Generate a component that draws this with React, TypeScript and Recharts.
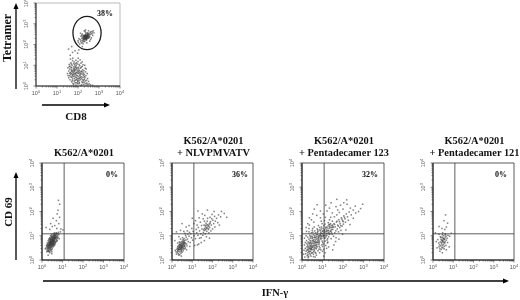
// App.tsx - tetramer staining and four IFN-gamma / CD69 flow plots
import { ScatterChart, Scatter, XAxis, YAxis, ReferenceLine, ReferenceArea } from 'recharts';

type Pt = [number, number];

// all values are in decades (log10 of the channel value)
const DECADES = [0, 1, 2, 3, 4];
const LOG_TICKS = [
  0, 0.3, 0.48, 0.6, 0.7, 0.78, 0.85, 0.9, 0.95,
  1, 1.3, 1.48, 1.6, 1.7, 1.78, 1.85, 1.9, 1.95,
  2, 2.3, 2.48, 2.6, 2.7, 2.78, 2.85, 2.9, 2.95,
  3, 3.3, 3.48, 3.6, 3.7, 3.78, 3.85, 3.9, 3.95, 4,
];

const tetramerHigh: Pt[] = [
  [2.38,2.36],[2.42,2.4],[2.31,2.3],[2.35,2.42],[2.45,2.48],[2.28,2.22],[2.5,2.44],[2.4,2.28],[2.33,2.38],[2.47,2.36],
  [2.26,2.34],[2.37,2.5],[2.52,2.52],[2.2,2.2],[2.43,2.32],[2.3,2.44],[2.36,2.26],[2.55,2.46],[2.24,2.28],[2.41,2.44],
  [2.34,2.34],[2.48,2.42],[2.29,2.38],[2.39,2.2],[2.44,2.54],[2.18,2.3],[2.32,2.14],[2.58,2.58],[2.46,2.3],[2.27,2.16],
  [2.4,2.38],[2.35,2.3],[2.51,2.38],[2.22,2.36],[2.6,2.5],[2.36,2.46],[2.42,2.24],[2.3,2.26],[2.25,2.42],[2.49,2.5],
  [2.13,2.16],[2.38,2.56],[2.56,2.38],[2.44,2.42],[2.33,2.24],[2.28,2.32],[2.4,2.34],[2.37,2.4],[2.46,2.46],[2.31,2.36],
  [2.16,2.08],[2.66,2.52],[2.34,2.62],[2.5,2.3],[2.22,2.12],[2.39,2.44],[2.43,2.36],[2.35,2.36],[2.29,2.44],[2.41,2.3],
  [2.62,2.62],[2.1,2.24],[2.47,2.56],[2.26,2.24],[2.53,2.34],[2.32,2.32],[2.37,2.28],[2.45,2.38],[2.3,2.4],[2.4,2.42],
  [2.02,2.1],[2.72,2.66],[2.08,2.02],[2.76,2.56],[2.14,2.4],[2.64,2.32],[2.04,2.28],[2.7,2.44],[2.2,2.5],[2.6,2.24],
  [2.12,2.54],[2.3,2.66],[2.5,2.66],[2.42,2.08],[2.24,2.04],[2.56,2.16],[2.68,2.6],[2.0,2.18],[2.18,2.44],[2.36,2.7],
  [1.74,1.62],[1.55,1.78],[1.86,1.7],[1.98,1.58],[1.63,1.48],[2.04,1.74],[1.7,1.9],[2.2,1.9],
];

const tetramerLow: Pt[] = [
  [1.95,0.67],[1.78,0.82],[2.1,0.55],[1.62,0.95],[2.22,0.78],[1.88,0.42],[2.02,0.9],[1.7,0.6],[2.3,0.32],[1.84,1.02],
  [2.14,1.1],[1.56,0.72],[1.98,0.26],[2.38,0.5],[1.74,0.34],[2.06,0.74],[1.92,0.98],[1.66,1.12],[2.26,0.62],[1.8,0.55],
  [2.18,0.2],[1.52,0.88],[2.0,1.18],[2.42,0.14],[1.9,0.78],[1.72,1.0],[2.08,0.38],[1.6,0.5],[2.34,0.86],[1.86,0.16],
  [2.24,1.02],[1.96,0.5],[1.68,0.78],[2.12,0.86],[1.82,1.16],[2.46,0.36],[1.76,0.12],[2.04,0.6],[1.58,1.04],[2.28,0.08],
  [1.94,0.84],[2.16,0.44],[1.64,0.64],[2.36,0.68],[1.88,1.08],[2.0,0.1],[1.7,0.9],[2.2,0.94],[1.78,0.46],[2.5,0.22],
  [1.84,0.7],[2.1,1.26],[1.5,0.6],[1.92,0.3],[2.32,1.0],[1.74,1.22],[2.06,0.18],[1.62,0.3],[2.24,0.42],[1.98,0.76],
  [2.4,0.04],[1.8,0.92],[2.14,0.68],[1.66,0.44],[1.9,1.24],[2.3,0.56],[2.02,0.46],[1.72,0.74],[2.18,0.06],[1.86,0.58],
  [2.08,0.98],[1.56,0.4],[2.26,0.26],[1.96,1.06],[2.44,0.6],[1.82,0.24],[2.12,0.3],[1.68,1.06],[2.36,0.12],[1.94,0.4],
  [2.04,0.82],[1.76,0.66],[2.22,0.16],[1.88,0.88],[2.54,0.1],[1.6,0.82],[2.16,0.72],[1.99,0.62],[1.73,0.5],[2.28,0.74],
  [1.83,0.36],[2.09,0.5],[2.35,0.24],[1.9,0.04],[2.2,1.16],[1.65,0.56],[2.01,1.34],[1.79,0.08],[2.47,0.08],[1.93,0.52],
  [2.13,0.02],[1.7,0.2],[2.33,0.4],[1.87,0.94],[2.05,0.28],[2.25,0.52],[1.97,0.14],[2.41,0.28],[1.81,0.62],[2.6,0.05],
  [1.64,1.3],[2.15,0.9],[1.75,1.34],[2.39,0.82],[2.7,0.03],[1.91,0.64],[2.07,0.66],[1.85,0.76],[2.19,0.58],[2.03,0.36],
  [1.77,0.72],[1.89,0.6],[1.95,0.88],[2.01,0.7],[1.83,0.84],[1.71,0.42],[2.11,0.42],[1.85,0.48],[1.97,0.34],[2.05,1.04],
  [1.69,0.7],[1.61,0.62],[1.79,1.08],[2.17,0.36],[1.93,1.12],[1.87,0.28],[2.23,0.3],[1.75,0.56],[2.13,0.6],[1.81,0.78],
  [2.29,0.18],[1.99,0.22],[1.67,0.88],[2.07,0.12],[1.53,0.5],[2.21,0.68],[1.91,0.16],[1.59,0.94],[2.31,0.46],[1.73,0.26],
];

const panelNone: Pt[] = [
  [0.49,0.75],[0.42,0.68],[0.55,0.82],[0.36,0.6],[0.6,0.9],[0.46,0.72],[0.52,0.7],[0.4,0.76],[0.58,0.78],[0.33,0.52],
  [0.64,0.94],[0.44,0.62],[0.5,0.84],[0.38,0.7],[0.56,0.72],[0.3,0.46],[0.68,1.0],[0.47,0.8],[0.53,0.64],[0.41,0.56],
  [0.62,0.84],[0.35,0.66],[0.48,0.58],[0.57,0.9],[0.43,0.84],[0.28,0.56],[0.72,0.96],[0.51,0.76],[0.39,0.48],[0.66,0.88],
  [0.45,0.78],[0.54,0.86],[0.32,0.4],[0.6,0.98],[0.37,0.74],[0.5,0.66],[0.42,0.5],[0.7,1.06],[0.26,0.5],[0.55,0.96],
  [0.47,0.64],[0.61,0.76],[0.34,0.58],[0.4,0.64],[0.58,0.68],[0.44,0.7],[0.64,1.04],[0.52,0.88],[0.3,0.62],[0.49,0.54],
  [0.75,1.02],[0.36,0.44],[0.56,0.8],[0.43,0.76],[0.67,0.92],[0.24,0.42],[0.46,0.88],[0.6,0.82],[0.38,0.54],[0.53,0.78],
  [0.41,0.82],[0.72,1.1],[0.33,0.68],[0.5,0.92],[0.59,0.86],[0.45,0.58],[0.28,0.36],[0.63,0.98],[0.55,0.66],[0.37,0.62],
  [0.48,0.7],[0.78,1.08],[0.42,0.44],[0.52,0.98],[0.35,0.5],[0.66,1.08],[0.44,0.78],[0.57,0.74],[0.31,0.54],[0.61,0.92],
  [0.46,0.66],[0.39,0.6],[0.69,1.12],[0.54,0.74],[0.4,0.7],[0.5,0.8],[0.34,0.34],[0.58,1.02],[0.47,0.94],[0.62,0.9],
  [0.43,0.66],[0.51,0.6],[0.36,0.72],[0.56,0.92],[0.29,0.48],[0.74,0.94],[0.45,0.52],[0.6,1.06],[0.41,0.62],[0.53,0.82],
  [0.8,1.14],[0.38,0.3],[0.49,0.86],[0.65,1.0],[0.32,0.6],[0.55,0.7],[0.44,0.86],[0.23,0.34],[0.59,0.94],[0.42,0.74],
  [0.22,0.6],[0.26,0.7],[0.3,0.8],[0.34,0.86],[0.38,0.92],[0.42,1.0],[0.46,1.04],[0.52,1.08],[0.56,1.02],[0.6,1.12],
  [0.7,0.84],[0.74,0.8],[0.66,0.72],[0.62,0.66],[0.58,0.58],[0.54,0.54],[0.5,0.46],[0.46,0.42],[0.42,0.38],[0.36,0.36],
  [0.78,0.94],[0.76,0.88],[0.72,0.78],[0.68,0.76],[0.64,0.7],[0.28,0.66],[0.32,0.74],[0.36,0.8],[0.4,0.88],[0.44,0.94],
  [0.3,0.38],[0.2,0.5],[0.24,0.56],[0.82,1.04],[0.48,0.98],[0.54,0.6],[0.48,0.34],[0.68,0.9],[0.63,0.78],[0.57,0.64],
  [0.48,0.26],[0.25,0.62],[0.84,0.88],[0.62,0.62],[0.16,0.46],[0.36,0.86],[0.9,1.16],[0.3,0.2],
  [0.72,1.3],[0.5,1.38],[0.82,1.5],[0.62,1.42],[0.38,1.26],[0.92,1.28],[0.7,1.62],[0.86,1.76],[0.78,2.05],[0.86,2.3],
  [0.8,2.46],[0.74,1.9],[0.42,1.5],[0.2,1.34],[0.54,1.72],[1.02,1.24],
];

const panelNlv: Pt[] = [
  [0.48,0.55],[0.42,0.48],[0.56,0.66],[0.36,0.42],[0.62,0.72],[0.44,0.6],[0.52,0.5],[0.38,0.56],[0.6,0.58],[0.3,0.36],
  [0.68,0.82],[0.46,0.4],[0.5,0.7],[0.34,0.52],[0.58,0.76],[0.26,0.3],[0.72,0.66],[0.4,0.66],[0.54,0.44],[0.32,0.26],
  [0.64,0.62],[0.47,0.76],[0.37,0.34],[0.76,0.86],[0.43,0.54],[0.24,0.44],[0.55,0.84],[0.28,0.56],[0.66,0.5],[0.5,0.32],
  [0.41,0.72],[0.6,0.88],[0.35,0.62],[0.8,0.76],[0.45,0.46],[0.2,0.34],[0.57,0.54],[0.33,0.2],[0.7,0.94],[0.49,0.62],
  [0.39,0.44],[0.63,0.46],[0.53,0.78],[0.27,0.5],[0.84,0.98],[0.44,0.28],[0.59,0.68],[0.36,0.74],[0.74,0.58],[0.51,0.58],
  [0.22,0.24],[0.9,0.72],[0.42,0.86],[0.67,1.02],[0.55,0.38],[0.31,0.46],[0.78,1.06],[0.47,0.5],[0.61,0.8],[0.38,0.22],
  [0.96,0.92],[0.52,0.92],[0.16,0.4],[0.72,0.42],[0.86,1.14],[0.28,0.7],[1.02,0.82],[0.64,1.1],[0.46,0.16],[0.92,1.08],
  [0.46,0.58],[0.4,0.52],[0.52,0.62],[0.34,0.44],[0.58,0.62],[0.44,0.44],[0.5,0.54],[0.42,0.62],[0.56,0.48],[0.36,0.5],
  [0.62,0.56],[0.3,0.44],[0.48,0.68],[0.54,0.72],[0.38,0.64],[0.66,0.7],[0.28,0.38],[0.45,0.36],[0.6,0.7],[0.33,0.58],
  [1.1,1.0],[0.34,0.96],[1.04,1.18],[0.76,1.2],[1.16,0.88],[0.58,1.18],[0.88,0.56],[1.22,1.12],[0.42,1.22],[0.98,1.3],
  [1.28,1.02],[0.7,1.36],[1.12,0.6],[0.22,1.16],[1.36,0.9],[0.84,1.42],[0.14,0.8],[1.44,0.72],[0.5,1.5],[1.26,0.62],
  [1.7,1.3],[1.62,1.22],[1.78,1.4],[1.55,1.14],[1.84,1.48],[1.66,1.36],[1.72,1.18],[1.48,1.28],[1.9,1.58],[1.58,1.44],
  [1.8,1.26],[1.42,1.08],[1.96,1.7],[1.68,1.52],[1.74,1.6],[1.36,1.2],[2.02,1.64],[1.52,1.02],[1.86,1.34],[1.6,1.6],
  [1.94,1.44],[1.3,1.34],[2.1,1.8],[1.76,1.72],[1.46,1.42],[2.06,1.5],[1.64,1.08],[1.88,1.76],[1.24,1.44],[2.2,1.72],
  [1.82,1.12],[1.54,1.7],[2.14,1.6],[1.4,1.56],[2.3,1.86],[1.98,1.88],[1.7,0.96],[2.4,1.78],[1.2,1.26],[1.34,1.74],
  [2.0,1.28],[1.62,1.84],[1.92,1.2],[2.26,1.54],[1.5,1.9],[2.12,1.36],[1.44,0.92],[2.58,1.92],[1.16,1.62],[1.75,2.06],
  [2.34,1.44],[1.08,1.5],[1.85,0.9],[1.28,2.02],[2.7,1.76],[1.6,0.8],[2.08,2.0],[1.32,0.66],[1.0,1.72],[2.44,2.0],
  [1.72,1.34],[1.66,1.26],[1.76,1.46],[1.6,1.3],[1.82,1.4],[1.7,1.44],[1.56,1.24],[1.88,1.52],[1.64,1.42],[1.78,1.3],
];

const panelPenta123: Pt[] = [
  [0.39,0.5],[0.46,0.62],[0.32,0.42],[0.54,0.7],[0.6,0.58],[0.28,0.3],[0.66,0.82],[0.42,0.36],[0.72,0.74],[0.5,0.88],
  [0.36,0.66],[0.8,0.92],[0.24,0.54],[0.58,0.44],[0.86,1.0],[0.44,0.78],[0.68,0.62],[0.2,0.36],[0.92,0.86],[0.52,0.52],
  [0.3,0.74],[0.76,1.06],[0.62,0.94],[0.4,0.22],[0.96,1.1],[0.48,0.98],[0.16,0.48],[0.84,0.7],[0.34,0.86],[0.7,0.46],
  [1.02,0.98],[0.56,1.04],[0.26,0.18],[0.9,1.2],[0.64,0.32],[0.12,0.62],[1.08,1.14],[0.74,0.54],[0.38,1.02],[0.98,0.78],
  [0.5,0.3],[0.78,1.18],[0.22,0.8],[1.14,1.02],[0.6,0.76],[0.42,0.58],[1.2,1.24],[0.88,0.5],[0.32,0.14],[0.66,1.12],
  [1.04,0.66],[0.46,1.12],[0.18,0.26],[1.26,1.1],[0.82,0.84],[0.56,0.24],[0.94,1.28],[0.36,0.48],[1.12,0.9],[0.72,0.96],
  [0.28,0.94],[1.32,1.3],[0.62,1.2],[0.44,0.16],[1.0,0.56],[0.54,0.6],[0.1,0.4],[1.18,1.36],[0.78,0.38],[0.34,1.16],
  [1.38,1.18],[0.86,1.34],[0.58,0.84],[0.24,0.68],[1.22,0.82],[0.68,0.28],[1.44,1.42],[0.4,0.72],[0.96,0.62],[0.5,1.22],
  [0.14,0.12],[1.3,0.96],[0.74,1.28],[0.6,0.4],[1.5,1.26],[0.3,0.56],[1.06,1.42],[0.82,0.64],[0.46,0.44],[1.56,1.5],
  [0.92,0.42],[0.2,1.0],[1.36,1.08],[0.7,1.04],[1.12,1.48],[0.38,0.28],[1.62,1.36],[0.52,1.3],[1.24,0.7],[0.8,1.42],
  [0.26,0.44],[1.68,1.56],[0.64,0.7],[1.42,0.88],[0.98,1.5],[0.42,0.9],[1.74,1.44],[0.86,0.3],[0.16,0.72],[1.16,0.6],
  [1.48,1.6],[0.56,0.14],[1.28,1.54],[0.76,0.72],[1.8,1.66],[0.34,1.3],[1.06,0.44],[1.6,1.12],[0.9,1.02],[0.48,0.7],
  [1.86,1.5],[1.34,1.66],[0.66,0.5],[1.54,0.98],[0.22,1.18],[1.92,1.74],[1.02,1.2],[0.6,1.36],[1.72,1.28],[1.2,0.48],
  [0.44,0.48],[1.98,1.62],[1.4,1.76],[0.84,0.56],[1.66,0.92],[0.3,0.1],[2.04,1.82],[1.1,1.62],[1.5,1.36],[0.7,0.2],
  [1.78,1.16],[0.94,1.6],[2.1,1.7],[1.26,0.74],[1.58,1.78],[0.52,0.8],[2.16,1.9],[1.84,1.34],[0.36,1.44],[1.44,1.14],
  [1.0,0.36],[2.22,1.78],[1.7,1.86],[0.78,0.88],[1.96,1.4],[1.14,1.76],[0.12,0.9],[2.3,1.98],[1.36,1.46],[0.58,1.56],
  [2.02,1.48],[1.64,0.76],[0.9,1.74],[2.4,1.86],[1.82,1.96],[0.28,1.5],[2.12,1.56],[1.3,0.54],[1.48,1.94],[0.64,0.12],
  [0.35,0.36],[0.41,0.44],[0.47,0.5],[0.53,0.56],[0.59,0.66],[0.65,0.74],[0.71,0.86],[0.77,0.8],[0.83,0.96],[0.89,1.06],
  [0.95,1.0],[1.01,1.08],[1.07,1.02],[1.13,1.16],[1.19,1.1],[1.25,1.2],[1.31,1.14],[1.37,1.34],[1.43,1.26],[1.49,1.44],
  [0.31,0.5],[0.37,0.58],[0.43,0.68],[0.49,0.42],[0.55,0.78],[0.61,0.5],[0.67,0.92],[0.73,0.64],[0.79,1.0],[0.85,0.78],
  [0.91,1.12],[0.97,0.9],[1.03,1.3],[1.09,0.92],[1.15,1.32],[1.21,1.02],[1.27,1.4],[1.33,1.06],[1.39,1.5],[1.45,1.34],
  [0.27,0.62],[0.33,0.34],[0.39,0.8],[0.45,0.56],[0.51,0.94],[0.57,0.34],[0.63,1.0],[0.69,0.72],[0.75,1.14],[0.81,0.74],
  [0.87,1.24],[0.93,0.96],[0.99,1.18],[1.05,1.0],[1.11,1.24],[1.17,0.96],[1.23,1.32],[1.29,1.22],[1.35,1.38],[1.41,1.2],
  [0.25,0.4],[0.29,0.22],[0.35,0.7],[0.41,0.96],[0.47,0.28],[0.53,1.14],[0.59,0.92],[0.65,0.6],[0.71,0.56],[0.77,1.24],
  [0.83,0.44],[0.89,0.9],[0.95,1.36],[1.01,0.72],[1.07,1.22],[1.13,0.78],[1.19,1.18],[1.25,0.88],[1.31,1.46],[1.47,1.06],
  [1.53,1.36],[1.59,1.46],[1.65,1.2],[1.71,1.6],[1.77,1.4],[1.83,1.58],[1.89,1.42],[1.95,1.68],[2.01,1.58],[2.07,1.76],
  [2.5,2.06],[1.9,1.22],[1.04,1.9],[2.26,1.64],[1.74,2.06],[0.08,0.24],[2.62,1.94],[1.56,0.62],[1.22,2.02],[2.36,2.14],
  [0.46,1.66],[2.0,2.1],[1.12,0.3],[2.76,2.0],[1.66,2.2],[2.14,1.24],[0.72,1.84],[2.5,1.72],[1.88,2.26],[0.2,1.34],
  [1.34,2.14],[2.86,2.12],[2.2,2.3],[0.9,2.02],[1.5,0.42],[2.04,2.36],[0.52,1.9],[2.6,2.22],[1.16,2.26],[1.8,0.86],
  [0.74,2.28],[2.34,1.46],[1.42,2.36],[2.18,2.48],[0.36,1.74],[1.98,1.06],[0.6,2.1],[2.96,2.3],[1.06,0.16],[1.7,2.5],
];

const panelPenta121: Pt[] = [
  [0.48,0.75],[0.42,0.66],[0.55,0.84],[0.38,0.58],[0.6,0.92],[0.46,0.82],[0.52,0.64],[0.36,0.74],[0.58,0.7],[0.44,0.52],
  [0.64,0.98],[0.5,0.9],[0.32,0.62],[0.56,0.56],[0.4,0.84],[0.47,0.6],[0.66,0.82],[0.34,0.46],[0.53,1.0],[0.43,0.72],
  [0.6,0.76],[0.28,0.7],[0.49,0.5],[0.62,1.04],[0.39,0.92],[0.54,0.72],[0.45,0.94],[0.7,0.9],[0.3,0.54],[0.57,0.86],
  [0.41,0.44],[0.5,0.78],[0.24,0.84],[0.64,0.6],[0.46,1.04],[0.74,1.02],[0.36,0.96],[0.55,0.46],[0.44,0.8],[0.52,0.88],
  [0.2,0.5],[0.82,0.98],[0.6,1.08],[0.34,0.36],[0.72,0.72],[0.16,0.76],[0.48,1.12],[0.9,1.1],[0.3,1.06],[0.66,0.42],
  [0.58,1.26],[0.72,1.52],[0.44,1.3],[0.62,1.86],[0.54,1.62],[0.3,1.38],[0.66,1.36],[0.12,1.12],[0.8,0.54],[0.46,0.3],
];

const facs = [
  { title: ['K562/A*0201'], pct: '0%', pctX: 112, cells: panelNone, left: 42, width: 82 },
  { title: ['K562/A*0201', '+ NLVPMVATV'], pct: '36%', pctX: 240, cells: panelNlv, left: 172, width: 81 },
  { title: ['K562/A*0201', '+ Pentadecamer 123'], pct: '32%', pctX: 370, cells: panelPenta123, left: 302, width: 82 },
  { title: ['K562/A*0201', '+ Pentadecamer 121'], pct: '0%', pctX: 501, cells: panelPenta121, left: 433, width: 81 },
];

const serif = '"Liberation Serif", serif';
const AXIS_W = 22;
const AXIS_H = 18;
const QUAD_LINE = 1.08;

function LogTick({ x, y, payload, vertical }: any) {
  const major = DECADES.includes(payload.value);
  const len = major ? 2.5 : 1.5;
  const label = major && (
    <text
      x={vertical ? x - 8 : x}
      y={vertical ? y : y + 9}
      textAnchor="middle"
      fontSize={5.5}
      fontFamily='"Liberation Sans", sans-serif'
      fill="#555"
      transform={vertical ? `rotate(-90 ${x - 8} ${y})` : undefined}
    >
      10<tspan dy={-2} fontSize={4}>{payload.value}</tspan>
    </text>
  );
  return (
    <g>
      {vertical
        ? <line x1={x - len} x2={x} y1={y} y2={y} stroke="#333" strokeWidth={0.6} />
        : <line x1={x} x2={x} y1={y} y2={y + len} stroke="#333" strokeWidth={0.6} />}
      {label}
    </g>
  );
}

const Dot = (props: any) => <rect x={props.cx - 0.75} y={props.cy - 0.75} width={1.5} height={1.5} fill="#3a3a3a" fillOpacity={0.65} />;

function Gate(props: any) {
  const { x, y, width, height } = props;
  return <ellipse cx={x + width / 2} cy={y + height / 2} rx={width / 2} ry={height / 2} fill="none" stroke="#1a1a1a" strokeWidth={1.3} />;
}

function FlowPlot({ left, top, width, height, cells, children, frame = '#333' }: any) {
  return (
    <div style={{ position: 'absolute', left: left - AXIS_W, top: top - 6 }}>
      <ScatterChart
        width={width + AXIS_W + 8}
        height={height + AXIS_H + 6}
        margin={{ top: 6, right: 8, left: 0, bottom: 0 }}
      >
        <XAxis
          type="number" dataKey="x" domain={[0, 4]} ticks={LOG_TICKS} interval={0} height={AXIS_H}
          axisLine={{ stroke: '#222' }} tickLine={false} tickSize={0} tickMargin={0} tick={<LogTick />}
        />
        <YAxis
          type="number" dataKey="y" domain={[0, 4]} ticks={LOG_TICKS} interval={0} width={AXIS_W}
          axisLine={{ stroke: '#222' }} tickLine={false} tickSize={0} tickMargin={0} tick={<LogTick vertical />}
        />
        <ReferenceArea x1={0} x2={4} y1={0} y2={4} fill="none" stroke={frame} strokeWidth={0.8} />
        {children}
        <Scatter data={cells.map(([x, y]: Pt) => ({ x, y }))} shape={Dot} isAnimationActive={false} />
      </ScatterChart>
    </div>
  );
}

function Label({ x, y, size = 10.4, children, rotate }: any) {
  return (
    <div
      style={{
        position: 'absolute', left: x, top: y, whiteSpace: 'nowrap', fontFamily: serif, fontWeight: 700, fontSize: size,
        lineHeight: 1, color: '#111', transform: `translate(-50%, -50%)${rotate ? ` rotate(${rotate}deg)` : ''}`,
      }}
    >
      {children}
    </div>
  );
}

export default function App() {
  return (
    <div style={{ position: 'absolute', left: 0, top: 0, width: 520, height: 300, background: '#fff', overflow: 'hidden', filter: 'blur(0.35px)' }}>
      <FlowPlot left={36} top={3} width={84} height={83} cells={[...tetramerHigh, ...tetramerLow]} frame="#aaa">
        <ReferenceArea x1={1.76} x2={3.1} y1={1.75} y2={3.36} shape={<Gate />} />
      </FlowPlot>
      <Label x={105} y={14} size={8}>38%</Label>
      <Label x={7} y={38} size={12} rotate={-90}>Tetramer</Label>
      <Label x={76} y={116} size={11}>CD8</Label>

      {facs.map((p) => (
        <div key={p.left}>
          <FlowPlot left={p.left} top={163} width={p.width} height={97} cells={p.cells}>
            <ReferenceLine x={QUAD_LINE} stroke="#333" strokeWidth={0.8} />
            <ReferenceLine y={QUAD_LINE} stroke="#333" strokeWidth={0.8} />
          </FlowPlot>
          {p.title.map((line, i) => (
            <Label key={line} x={p.left + p.width / 2 + 1} y={153 - (p.title.length - 1 - i) * 12.5}>{line}</Label>
          ))}
          <Label x={p.pctX} y={175} size={8}>{p.pct}</Label>
        </div>
      ))}
      <Label x={8} y={212} size={11} rotate={-90}>CD 69</Label>
      <Label x={275} y={293} size={10.5}>IFN-γ</Label>

      <svg width={520} height={300} style={{ position: 'absolute', left: 0, top: 0 }}>
        <g stroke="#000" strokeWidth={1.3} fill="#000">
          <line x1={16} y1={8} x2={16} y2={89} />
          <polygon points="16,3 13.5,9 18.5,9" stroke="none" />
          <line x1={42} y1={105} x2={105} y2={105} />
          <polygon points="110,105 104,102.5 104,107.5" stroke="none" />
          <line x1={16} y1={177} x2={16} y2={260} />
          <polygon points="16,172 13.5,178 18.5,178" stroke="none" />
          <line x1={43} y1={281} x2={504} y2={281} />
          <polygon points="509,281 503,278.5 503,283.5" stroke="none" />
        </g>
      </svg>
    </div>
  );
}
